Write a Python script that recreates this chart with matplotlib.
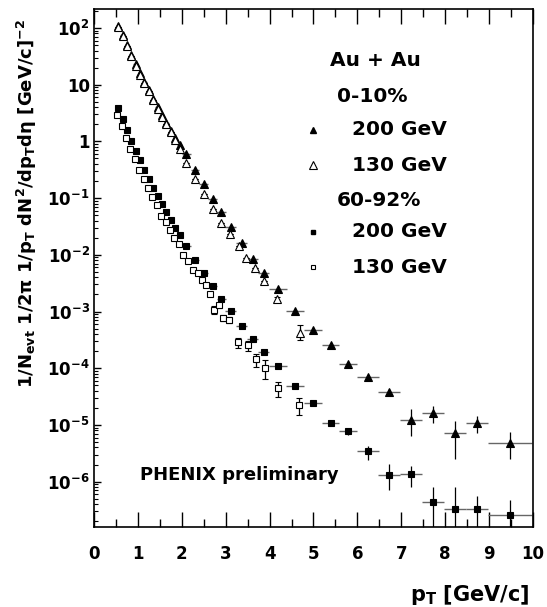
import matplotlib
matplotlib.use('Agg')
import numpy as np
import matplotlib.pyplot as plt
from matplotlib.ticker import MultipleLocator, FixedLocator, FixedFormatter, LogLocator, NullFormatter

plt.rcParams['font.family'] = ['DejaVu Sans']
plt.rcParams['font.weight'] = 'bold'
plt.rcParams['mathtext.fontset'] = 'custom'
plt.rcParams['mathtext.rm'] = 'DejaVu Sans:bold'
plt.rcParams['mathtext.it'] = 'DejaVu Sans:bold:italic'
plt.rcParams['mathtext.bf'] = 'DejaVu Sans:bold'
plt.rcParams['mathtext.default'] = 'rm'

# 200 GeV binning (shared by both centralities)
pt_200 = [0.55, 0.65, 0.75, 0.85, 0.95, 1.05, 1.15, 1.25, 1.35, 1.45,
          1.55, 1.65, 1.75, 1.85, 1.95, 2.1, 2.3, 2.5, 2.7, 2.9,
          3.12, 3.37, 3.62, 3.87, 4.19, 4.58, 4.99, 5.39, 5.78,
          6.24, 6.73, 7.23, 7.73, 8.23, 8.72, 9.47]
dpt_200 = [0.05] * 15 + [0.1] * 5 + [0.125] * 4 + [0.2] * 5 + [0.25] * 6 + [0.5]

# 0-10%, 200 GeV
y_c200 = [110, 75, 50, 33, 22.8, 15.8, 11.2, 8.0, 5.7, 4.07,
          2.9, 2.12, 1.55, 1.16, 0.87, 0.594, 0.318, 0.18, 0.098, 0.057,
          0.031, 0.0161, 0.0085, 0.00475, 0.0025, 1.01e-3, 4.8e-4, 2.6e-4, 1.17e-4,
          6.9e-5, 3.75e-5, 1.24e-5, 1.62e-5, 7.1e-6, 1.08e-5, 4.8e-6]
up_c200 = [0] * 24 + [0.04, 0.05, 0.05, 0.06, 0.08, 0.1, 0.14, 0.53, 0.32, 0.65, 0.34, 0.54]
dn_c200 = [0] * 24 + [0.04, 0.05, 0.05, 0.06, 0.08, 0.1, 0.13, 0.49, 0.32, 0.65, 0.34, 0.48]

# 60-92%, 200 GeV
y_p200 = [3.9, 2.47, 1.58, 1.02, 0.68, 0.466, 0.318, 0.221, 0.153, 0.109,
          0.0795, 0.056, 0.0407, 0.030, 0.022, 0.0143, 0.0082, 0.00483, 0.00284, 0.00168,
          1.04e-3, 5.5e-4, 3.3e-4, 1.9e-4, 1.11e-4, 4.9e-5, 2.4e-5, 1.07e-5, 7.7e-6,
          3.4e-6, 1.3e-6, 1.35e-6, 4.4e-7, 3.35e-7, 3.35e-7, 2.6e-7]
up_p200 = [0] * 24 + [0.04, 0.05, 0.06, 0.1, 0.12, 0.26, 0.57, 0.41, 0.84, 1.42, 0.67, 0.81]
dn_p200 = [0] * 24 + [0.04, 0.05, 0.06, 0.1, 0.12, 0.29, 0.45, 0.415, 0.999, 0.999, 0.999, 0.999]

# 0-10%, 130 GeV
pt_c130 = [0.55, 0.65, 0.75, 0.85, 0.95, 1.05, 1.15, 1.25, 1.35, 1.45,
           1.55, 1.65, 1.75, 1.85, 1.95, 2.1, 2.3, 2.5, 2.7, 2.9,
           3.1, 3.3, 3.47, 3.67, 3.88, 4.16, 4.69]
y_c130 = [106, 72, 47.4, 32, 21.6, 15.1, 10.7, 7.6, 5.35, 3.8,
          2.71, 1.99, 1.44, 1.05, 0.73, 0.41, 0.214, 0.12, 0.063, 0.036,
          0.0234, 0.0141, 0.0087, 0.0059, 0.0034, 0.00168, 4.1e-4]
up_c130 = [0] * 25 + [0.08, 0.41]
dn_c130 = [0] * 25 + [0.08, 0.24]

# 60-92%, 130 GeV
pt_p130 = [0.53, 0.63, 0.73, 0.83, 0.93, 1.03, 1.13, 1.23, 1.33, 1.43,
           1.53, 1.63, 1.73, 1.83, 1.93, 2.03, 2.15, 2.25, 2.36, 2.45,
           2.55, 2.64, 2.74, 2.84, 2.94, 3.08, 3.28, 3.5, 3.69, 3.89,
           4.19, 4.67]
y_p130 = [2.98, 1.86, 1.15, 0.73, 0.48, 0.318, 0.221, 0.153, 0.105, 0.0746,
          0.0483, 0.0372, 0.0269, 0.0197, 0.0155, 0.0098, 0.0079, 0.0055, 0.0048, 0.00355,
          0.00288, 0.00204, 0.00107, 0.00129, 7.8e-4, 7.1e-4, 2.9e-4, 2.6e-4, 1.45e-4, 1.0e-4,
          4.4e-5, 2.24e-5]
up_p130 = [0] * 22 + [0.15, 0.1, 0.12, 0.12, 0.2, 0.15, 0.24, 0.41, 0.31, 0.32]
dn_p130 = [0] * 22 + [0.15, 0.1, 0.12, 0.12, 0.21, 0.22, 0.28, 0.35, 0.30, 0.33]

fig = plt.figure(figsize=(5.47, 6.07), dpi=100)
ax = fig.add_axes([0.1718, 0.1318, 0.8026, 0.8534])


def draw(pt, y, up, dn, dx, marker, filled, ms, cap):
    y = np.array(y)
    yerr = [y * np.array(dn), y * np.array(up)]
    if dx is not None:
        # bin widths, drawn lighter as in the original
        ax.errorbar(pt, y, xerr=dx, fmt='none', ecolor='0.4', elinewidth=1.0, zorder=2)
    ax.errorbar(pt, y, yerr=yerr, fmt=marker, ms=ms,
                mfc='black' if filled else 'white', mec='black', mew=0.8,
                ecolor='black', elinewidth=0.9, capsize=cap, capthick=0.8, zorder=3)


draw(pt_200, y_c200, up_c200, dn_c200, dpt_200, '^', True, 5.5, 0)
draw(pt_c130, y_c130, up_c130, dn_c130, None, '^', False, 6, 2)
draw(pt_200, y_p200, up_p200, dn_p200, dpt_200, 's', True, 3.7, 0)
draw(pt_p130, y_p130, up_p130, dn_p130, None, 's', False, 3.7, 2)

ax.set_yscale('log')
ax.set_xlim(0, 10)
ax.set_ylim(10 ** -6.80, 10 ** 2.335)

ax.xaxis.set_major_locator(MultipleLocator(1))
ax.xaxis.set_minor_locator(MultipleLocator(0.5))
ax.tick_params(axis='x', which='major', direction='in', length=11, width=1, top=True,
               labelsize=12, pad=13)
ax.tick_params(axis='x', which='minor', direction='in', length=5.5, width=1, top=True)

decades = [1e2, 1e1, 1, 1e-1, 1e-2, 1e-3, 1e-4, 1e-5, 1e-6]
dec_labels = [r'$10^{2}$', '10', '1', r'$10^{-1}$', r'$10^{-2}$', r'$10^{-3}$',
              r'$10^{-4}$', r'$10^{-5}$', r'$10^{-6}$']
ax.yaxis.set_major_locator(FixedLocator(decades))
ax.yaxis.set_major_formatter(FixedFormatter(dec_labels))
ax.yaxis.set_minor_locator(LogLocator(base=10, subs=np.arange(2, 10), numticks=20))
ax.yaxis.set_minor_formatter(NullFormatter())
ax.tick_params(axis='y', which='major', direction='in', length=5, width=1, labelsize=12, pad=3)
ax.tick_params(axis='y', which='minor', direction='in', length=3, width=0.8)

for s in ax.spines.values():
    s.set_linewidth(1.2)

fig.text(0.05, 0.665, r'1/N$_{\rm evt}$ 1/2$\pi$ 1/p$_{\rm T}$ dN$^{2}$/dp$_{\rm T}$d$\eta$ [GeV/c]$^{-2}$',
         rotation=90, ha='center', va='center', fontsize=13)
fig.text(0.969, 0.02, r'p$_{\rm T}$ [GeV/c]', ha='right', va='center', fontsize=15)

# legend block
fig.text(0.603, 0.901, 'Au + Au', ha='left', va='center', fontsize=14.5)
fig.text(0.6155, 0.8407, '0-10%', ha='left', va='center', fontsize=14.5)
fig.text(0.643, 0.786, '200 GeV', ha='left', va='center', fontsize=14.5)
fig.text(0.643, 0.728, '130 GeV', ha='left', va='center', fontsize=14.5)
fig.text(0.6155, 0.6705, '60-92%', ha='left', va='center', fontsize=14.5)
fig.text(0.643, 0.6183, '200 GeV', ha='left', va='center', fontsize=14.5)
fig.text(0.643, 0.5596, '130 GeV', ha='left', va='center', fontsize=14.5)
ax.plot([0.572], [0.786], '^', ms=5, color='black', transform=fig.transFigure, clip_on=False)
ax.plot([0.572], [0.728], '^', ms=5.5, mfc='white', mec='black', mew=0.8,
        transform=fig.transFigure, clip_on=False)
ax.plot([0.572], [0.6183], 's', ms=3.5, color='black', transform=fig.transFigure, clip_on=False)
ax.plot([0.572], [0.5596], 's', ms=3.5, mfc='white', mec='black', mew=0.8,
        transform=fig.transFigure, clip_on=False)

fig.text(0.256, 0.2175, 'PHENIX preliminary', ha='left', va='center', fontsize=13)

fig.savefig('out.png', dpi=100)
